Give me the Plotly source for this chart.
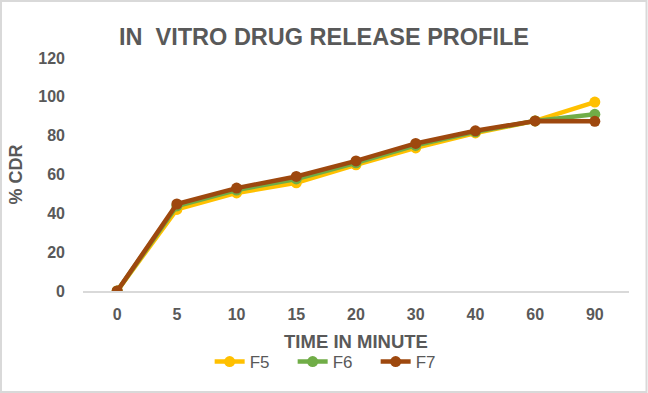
import plotly.graph_objects as go

categories = ["0", "5", "10", "15", "20", "30", "40", "60", "90"]
f5 = [0, 42.0, 50.5, 55.7, 65.0, 73.7, 81.4, 87.6, 97.3]
f6 = [0, 43.8, 52.0, 57.7, 66.0, 75.0, 82.0, 87.6, 91.0]
f7 = [0, 44.8, 53.0, 59.0, 67.0, 76.0, 82.5, 87.6, 87.4]
series = [("F5", f5, "#FFC000"), ("F6", f6, "#70AD47"), ("F7", f7, "#9E480E")]

W, H = 648, 393
ml, mr, mt, mb = 83, 19, 58, 102
pw, ph = W - ml - mr, H - mt - mb

fig = go.Figure()
for name, vals, col in series:
    fig.add_trace(go.Scatter(
        x=categories, y=vals, name=name, mode="lines+markers",
        line=dict(color=col, width=4.5),
        marker=dict(color=col, size=11),
    ))

gray = "#595959"
font = "Liberation Sans"
fig.update_layout(
    width=W, height=H,
    margin=dict(l=ml, r=mr, t=mt, b=mb, autoexpand=False),
    paper_bgcolor="white", plot_bgcolor="white",
    showlegend=True,
    title=dict(text="<b>IN  VITRO DRUG RELEASE PROFILE</b>", x=0.5, xanchor="center",
               y=1 - 37 / H, yanchor="middle",
               font=dict(family=font, size=23.5, color=gray)),
    xaxis=dict(type="category", showgrid=False, showline=True, linecolor="#D9D9D9",
               linewidth=1.5, ticks="", zeroline=False, ticklabelstandoff=8,
               tickfont=dict(family=font, size=16, color=gray),
               tickprefix="<b>", ticksuffix="</b>",
               title=dict(text="<b>TIME IN MINUTE</b>", standoff=13,
                          font=dict(family=font, size=18.5, color=gray))),
    yaxis=dict(range=[0, 120], dtick=20, showgrid=False, zeroline=False, showline=False,
               ticks="", tickfont=dict(family=font, size=16, color=gray),
               ticklabelstandoff=17,
               tickprefix="<b>", ticksuffix="</b>",
               title=dict(text="<b>% CDR</b>", standoff=10,
                          font=dict(family=font, size=18, color=gray))),
    legend=dict(orientation="h", x=0.46, xanchor="center", y=-(362 - mt - ph) / ph,
                yanchor="middle", font=dict(family=font, size=17, color=gray),
                entrywidth=38, entrywidthmode="pixels", tracegroupgap=0,
                bgcolor="rgba(0,0,0,0)"),
)
fig.add_shape(type="rect", xref="paper", yref="paper",
              x0=-(ml - 1) / pw, x1=1 + (mr - 1.5) / pw,
              y0=-(mb - 1) / ph, y1=1 + (mt - 1) / ph,
              line=dict(color="#D9D9D9", width=2), fillcolor="rgba(0,0,0,0)", layer="below")
fig.write_html("out.html", config={"displayModeBar": False},
               post_script="document.body.style.margin='0';document.body.style.overflow='hidden';")
